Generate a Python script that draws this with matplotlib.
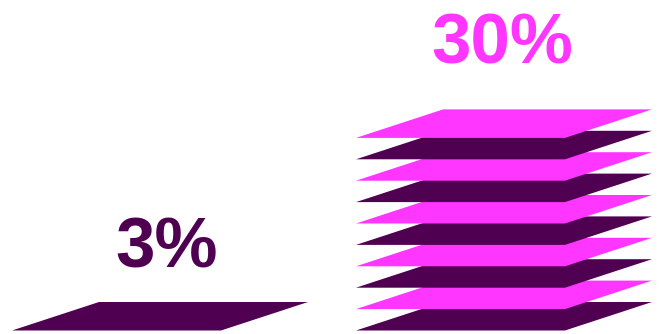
import matplotlib
matplotlib.use("Agg")
import matplotlib.pyplot as plt
from matplotlib.patches import Polygon

# ---- data ----
categories = ["A", "B"]
values = [3, 30]            # percent
labels = ["3%", "30%"]
unit = 3                    # percent represented by one layer

# ---- style / layout ----
dark = "#500050"
pink = "#ff36ff"
x_left = [12, 356]          # bottom-left x of each stack
width = 209
skew = 87
layer_h = 28.5
step = 21.4
base_y = 3.5
label_offset = [34, 46]
label_dx = [7, -2]
label_colors = [dark, pink]

fig = plt.figure(figsize=(6.67, 3.34), dpi=100)
ax = fig.add_axes([0, 0, 1, 1])
ax.set_xlim(0, 667)
ax.set_ylim(0, 334)
ax.axis("off")

for ci, (v, lab) in enumerate(zip(values, labels)):
    n = int(round(v / unit))
    x0 = x_left[ci]
    top = base_y
    for i in range(n):
        y0 = base_y + i * step
        col = dark if i % 2 == 0 else pink
        poly = Polygon([(x0, y0), (x0 + width, y0),
                        (x0 + width + skew, y0 + layer_h),
                        (x0 + skew, y0 + layer_h)],
                       closed=True, facecolor=col, edgecolor="none")
        ax.add_patch(poly)
        top = y0 + layer_h
    cx = x0 + (width + skew) / 2 + label_dx[ci]
    ax.text(cx, top + label_offset[ci], lab, ha="center", va="baseline",
            fontsize=51, fontweight="bold", family="Liberation Sans",
            color=label_colors[ci])

fig.savefig("out.png", dpi=100)
